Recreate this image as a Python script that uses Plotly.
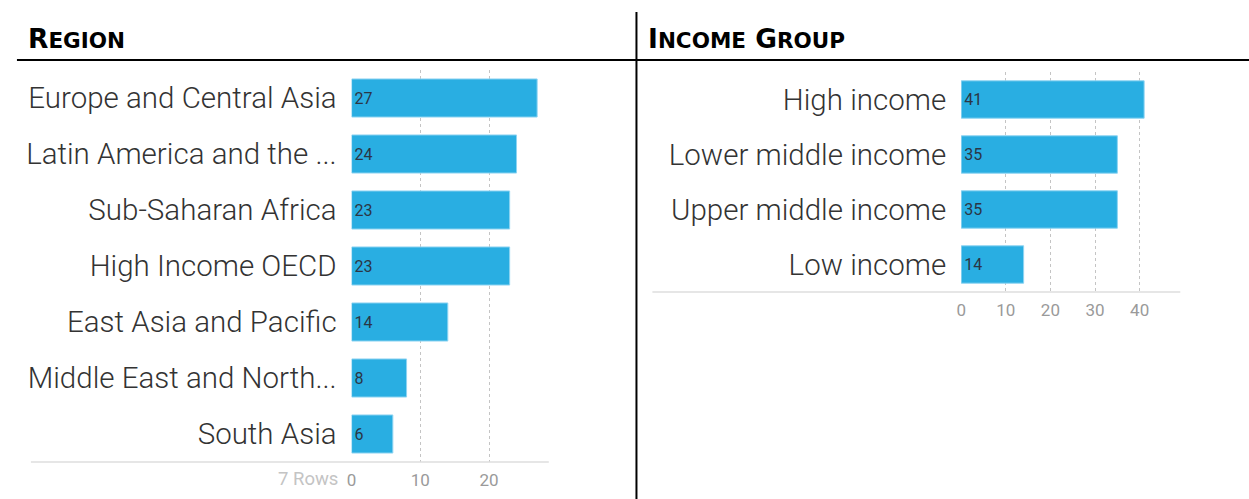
import plotly.graph_objects as go

# Country counts by region and by income group
regions = [
    "Europe and Central Asia",
    "Latin America and the ...",
    "Sub-Saharan Africa",
    "High Income OECD",
    "East Asia and Pacific",
    "Middle East and North...",
    "South Asia",
]
region_counts = [27, 24, 23, 23, 14, 8, 6]

income_groups = [
    "High income",
    "Lower middle income",
    "Upper middle income",
    "Low income",
]
income_counts = [41, 35, 35, 14]

region_ticks = [0, 10, 20]
income_ticks = [0, 10, 20, 30, 40]

W, H = 1249, 499
BAR = "#29AEE2"
BAR_EDGE = "#8FD4F2"
LABEL_FONT = dict(family="Roboto", size=29.5, color="#333333", weight=300)
VALUE_FONT = dict(family="Roboto", size=16, color="#2b3645")
TICK_FONT = dict(family="Roboto", size=17, color="#9a9a9a")


def px_x(v):
    return v / W


def px_y(v):
    return 1 - v / H


fig = go.Figure()

fig.add_trace(go.Bar(
    x=region_counts, y=regions, orientation="h",
    xaxis="x", yaxis="y",
    marker=dict(color=BAR, line=dict(color=BAR_EDGE, width=1)),
    text=region_counts, textposition="inside", insidetextanchor="start",
    textfont=VALUE_FONT, cliponaxis=False, hoverinfo="skip",
))
fig.add_trace(go.Bar(
    x=income_counts, y=income_groups, orientation="h",
    xaxis="x2", yaxis="y2",
    marker=dict(color=BAR, line=dict(color=BAR_EDGE, width=1)),
    text=income_counts, textposition="inside", insidetextanchor="start",
    textfont=VALUE_FONT, cliponaxis=False, hoverinfo="skip",
))

axis_common = dict(
    showgrid=True, gridcolor="#c4c4c4", griddash="dot", gridwidth=1,
    zeroline=False, showline=False, ticks="", tickfont=TICK_FONT,
    ticklabelstandoff=6, fixedrange=True,
)
cat_common = dict(
    type="category", autorange="reversed", showgrid=False, zeroline=False,
    showline=False, ticks="", tickfont=LABEL_FONT, ticklabelstandoff=14,
    fixedrange=True,
)

fig.update_layout(
    width=W, height=H,
    margin=dict(l=0, r=0, t=0, b=0),
    paper_bgcolor="white", plot_bgcolor="white",
    showlegend=False, bargap=0.32,
    uniformtext=dict(minsize=16, mode="show"),
    xaxis=dict(domain=[px_x(348), px_x(546)], range=[0, 28.7],
               tickvals=region_ticks, anchor="y", **axis_common),
    yaxis=dict(domain=[px_y(462), px_y(70)], anchor="x",
               categoryorder="array", categoryarray=regions, **cat_common),
    xaxis2=dict(domain=[px_x(960), px_x(1180)], range=[0, 49.1],
                tickvals=income_ticks, anchor="y2", **axis_common),
    yaxis2=dict(domain=[px_y(292), px_y(72)], anchor="x2",
                categoryorder="array", categoryarray=income_groups, **cat_common),
)

# Axis baselines spanning label column and plot area
fig.add_shape(type="line", xref="paper", yref="paper",
              x0=px_x(26), x1=px_x(546), y0=px_y(462), y1=px_y(462),
              line=dict(color="#dedede", width=1.5))
fig.add_shape(type="line", xref="paper", yref="paper",
              x0=px_x(650), x1=px_x(1180), y0=px_y(292), y1=px_y(292),
              line=dict(color="#dedede", width=1.5))

# Section header rules
fig.add_shape(type="line", xref="paper", yref="paper",
              x0=px_x(12), x1=1, y0=px_y(60), y1=px_y(60),
              line=dict(color="black", width=2))
fig.add_shape(type="line", xref="paper", yref="paper",
              x0=px_x(634), x1=px_x(634), y0=px_y(12), y1=0,
              line=dict(color="black", width=2))


def small_caps(text, big, small):
    out = []
    for word in text.split(" "):
        out.append(f"<span style='font-size:{big}px'>{word[0]}</span>"
                   f"<span style='font-size:{small}px'>{word[1:]}</span>")
    return " ".join(out)


HEAD_FONT = dict(family="DejaVu Sans", size=26.5, color="black", weight=700)
fig.add_annotation(text=small_caps("REGION", 26.5, 21.5), xref="paper", yref="paper",
                   x=px_x(21), y=px_y(55.5), xanchor="left", yanchor="bottom",
                   showarrow=False, font=HEAD_FONT)
fig.add_annotation(text=small_caps("INCOME GROUP", 26.5, 21.5), xref="paper", yref="paper",
                   x=px_x(644), y=px_y(55.5), xanchor="left", yanchor="bottom",
                   showarrow=False, font=HEAD_FONT)

fig.add_annotation(text=f"{len(regions)} Rows", xref="paper", yref="paper",
                   x=px_x(336), y=px_y(479), xanchor="right", yanchor="middle",
                   showarrow=False, font=dict(family="Roboto", size=18.5, color="#c4c4c4"))

fig.write_html("out.html")
